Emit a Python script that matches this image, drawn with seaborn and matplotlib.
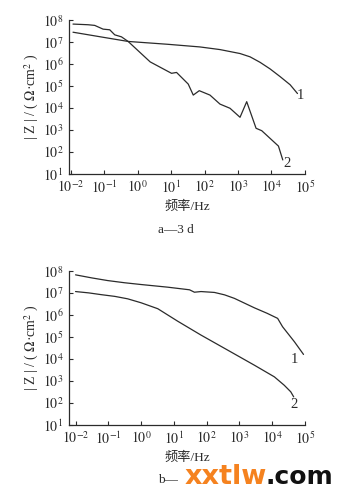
import numpy as np
import pandas as pd
import matplotlib
matplotlib.use("Agg")
import matplotlib.pyplot as plt
import seaborn as sns

# ---- data (log10 values) ----
# panel a (3 d)
a1_logf = [-1.94, -1.0, -0.29, 0.9, 1.86, 2.46, 3.06, 3.36, 3.66, 3.96, 4.26, 4.56, 4.78]
a1_logz = [7.45, 7.21, 7.03, 6.90, 6.78, 6.66, 6.48, 6.33, 6.08, 5.78, 5.43, 5.06, 4.66]
a2_logf = [-1.94, -1.49, -1.29, -1.04, -0.84, -0.69, -0.49, -0.29, 0.37, 1.01, 1.16, 1.51,
           1.66, 1.84, 2.16, 2.46, 2.76, 3.06, 3.26, 3.54, 3.71, 3.96, 4.21, 4.34]
a2_logz = [7.82, 7.79, 7.76, 7.59, 7.56, 7.33, 7.24, 7.03, 6.10, 5.58, 5.62, 5.09,
           4.59, 4.79, 4.59, 4.18, 3.99, 3.58, 4.29, 3.08, 2.97, 2.62, 2.27, 1.64]
# panel b
b1_logf = [-2.0, -1.5, -1.02, -0.5, 0.0, 0.81, 1.48, 1.63, 1.83, 2.24, 2.55, 2.85, 3.46, 3.85, 4.17, 4.32, 4.68, 4.96]
b1_logz = [7.83, 7.69, 7.57, 7.47, 7.39, 7.27, 7.15, 7.04, 7.07, 7.03, 6.92, 6.76, 6.33, 6.08, 5.85, 5.47, 4.79, 4.21]
b2_logf = [-2.0, -1.6, -1.22, -0.8, -0.41, 0.0, 0.51, 1.12, 1.83, 2.64, 3.46, 4.07, 4.37, 4.57, 4.66]
b2_logz = [7.07, 7.01, 6.93, 6.85, 6.74, 6.56, 6.29, 5.72, 5.09, 4.41, 3.72, 3.19, 2.81, 2.51, 2.28]

xticks_exp = [-2, -1, 0, 1, 2, 3, 4, 5]
yticks_exp = [1, 2, 3, 4, 5, 6, 7, 8]

sns.set_style("ticks")
plt.rcParams["font.family"] = ["Liberation Serif", "Noto Sans CJK SC", "DejaVu Sans"]
plt.rcParams["mathtext.fontset"] = "stix"

INK = "#2b2b2b"
fig = plt.figure(figsize=(3.52, 4.98), dpi=100)

def make_panel(rect, xmin, series, labels):
    ax = fig.add_axes(rect)
    for (lf, lz) in series:
        df = pd.DataFrame({"f": np.power(10.0, lf), "z": np.power(10.0, lz)})
        sns.lineplot(data=df, x="f", y="z", ax=ax, color=INK, lw=0.9,
                     estimator=None, sort=False)
    ax.set_xscale("log")
    ax.set_yscale("log")
    ax.set_xlim(10 ** xmin, 1e5)
    ax.set_ylim(10, 1e8)
    ax.set_xticks([10.0 ** e for e in xticks_exp])
    ax.set_xticklabels([r"$10^{%d}$" % e for e in xticks_exp])
    ax.set_yticks([10.0 ** e for e in yticks_exp])
    ax.set_yticklabels([r"$10^{%d}$" % e for e in yticks_exp])
    ax.minorticks_off()
    ax.tick_params(direction="in", length=3, width=0.8, colors=INK,
                   labelsize=10, labelcolor=INK, pad=4)
    for s in ["top", "right"]:
        ax.spines[s].set_visible(False)
    for s in ["left", "bottom"]:
        ax.spines[s].set_color(INK)
        ax.spines[s].set_linewidth(0.9)
    ax.set_xlabel("频率/Hz", fontsize=9.5, color=INK, labelpad=3)
    ax.set_ylabel(r"| Z | / ( $\Omega$·cm$^2$ )", fontsize=10, color=INK)
    ax.yaxis.set_label_coords(-0.118, 0.5)
    for (tx, ty, t) in labels:
        ax.text(10 ** tx, 10 ** ty, t, fontsize=10.5, color=INK, ha="center", va="center")
    return ax

axa = make_panel([0.196, 0.6506, 0.67, 0.309], -2.06,
                 [(a1_logf, a1_logz), (a2_logf, a2_logz)],
                 [(4.87, 4.57, "1"), (4.47, 1.5, "2")])
axb = make_panel([0.196, 0.1466, 0.67, 0.309], -2.2,
                 [(b1_logf, b1_logz), (b2_logf, b2_logz)],
                 [(4.68, 3.98, "1"), (4.68, 1.93, "2")])

fig.text(0.5, 1 - 230 / 498, "a—3 d", ha="center", va="center", fontsize=9.5, color=INK)
fig.text(168 / 352, 1 - 480 / 498, "b—", ha="center", va="center", fontsize=9.5, color=INK)
fig.text(185 / 352, 1 - 477 / 498, "xxtlw", ha="left", va="center", fontsize=19.5,
         fontweight="heavy", family="DejaVu Sans", color="#f5821f")
fig.text(333 / 352, 1 - 477 / 498, ".com", ha="right", va="center", fontsize=18,
         fontweight="heavy", family="DejaVu Sans", color="#111111")

fig.savefig("out.png", dpi=100)
